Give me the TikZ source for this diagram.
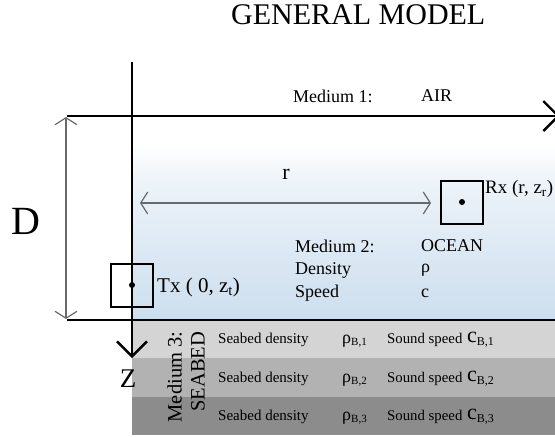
\documentclass[tikz,border=0pt]{standalone}
\usepackage{fontspec}
\setmainfont{Liberation Serif}
\usetikzlibrary{arrows.meta}
\definecolor{oceanblue}{RGB}{204,222,238}
\definecolor{bedA}{RGB}{212,212,212}
\definecolor{bedB}{RGB}{178,178,178}
\definecolor{bedC}{RGB}{140,140,140}
\definecolor{dimgray}{RGB}{105,105,105}
\tikzset{
  axisline/.style={line width=2.4pt},
  axis/.style={line width=2.4pt, -{Straight Barb[length=15pt,width=30pt,line width=2.4pt]}},
  dimline/.style={dimgray, line width=1.2pt, {Straight Barb[length=7pt,width=22pt]}-{Straight Barb[length=7pt,width=22pt]}},
  devbox/.style={draw, line width=2pt, minimum width=42pt, minimum height=43pt, inner sep=0pt},
  lbl/.style={font=\fontsize{18}{22}\selectfont, anchor=west, inner sep=0pt},
  bedlbl/.style={anchor=west, inner sep=0pt},
}
\begin{document}
\begin{tikzpicture}[x=1pt,y=-1pt]
\useasboundingbox (0,0) rectangle (555,437);
% ocean
\fill[white] (132,116) rectangle (555,145);
\shade[top color=white, bottom color=oceanblue!35] (132,145) rectangle (555,180);
\shade[top color=oceanblue!35, bottom color=oceanblue] (132,180) rectangle (555,320);
% seabed layers
\fill[bedA] (132,320) rectangle (555,358);
\fill[bedB] (132,358) rectangle (555,397);
\fill[bedC] (132,397) rectangle (555,435);
% title
\node[font=\fontsize{30}{32}\selectfont, anchor=west, inner sep=0pt] (title) at (231,15) {GENERAL MODEL};
% axes
\coordinate (ztop) at (132,62);
\coordinate (zend) at (132,358);
\coordinate (xstart) at (67,116);
\coordinate (xend) at (560,116);
\draw[axis] (ztop) -- (zend);
\draw[axis] (xstart) -- (xend);
\coordinate (bl) at (67,320);
\coordinate (br) at (555,320);
\draw[axisline] (bl) -- (br);
\node[font=\fontsize{27}{28}\selectfont, inner sep=0pt] (zlbl) at (128,379) {Z};
% D dimension
\coordinate (dtop) at (66,117);
\coordinate (dbot) at (66,319);
\draw[dimline] (dtop) -- (dbot);
\node[font=\fontsize{40}{42}\selectfont, inner sep=0pt] (dlbl) at (26,221) {D};
% devices
\node[devbox] (tx) at (132,285) {};
\fill (tx.center) circle (3pt);
\node[lbl, font=\fontsize{21}{24}\selectfont] (txl) at (157,287) {Tx ( 0, z\textsubscript{t})};
\node[devbox] (rx) at (462,202) {};
\fill (rx.center) circle (3pt);
\node[lbl, font=\fontsize{19}{23}\selectfont] (rxl) at (485,189) {Rx (r, z\textsubscript{r})};
% r dimension
\coordinate (ra) at (140,203);
\coordinate (rb) at (431,203);
\draw[dimline] (ra) -- (rb);
\node[font=\fontsize{22}{24}\selectfont, inner sep=0pt] (rlbl) at (286,174) {r};
% medium labels
\node[lbl] (m1) at (293,96) {Medium 1:};
\node[lbl] (m1v) at (421,96) {AIR};
\node[lbl] (m2) at (295,246) {Medium 2:};
\node[lbl] (m2v) at (421,246) {OCEAN};
\node[lbl] (den) at (295,270) {Density};
\node[lbl] (denv) at (421,270) {ρ};
\node[lbl] (spd) at (295,293) {Speed};
\node[lbl] (spdv) at (421,293) {c};
% seabed
\node[font=\fontsize{20.5}{23}\selectfont, rotate=90, align=right, inner sep=0pt] (m3) at (186,377) {Medium 3:\\SEABED};
\foreach \i/\y in {1/340,2/379,3/417}{
  \node[bedlbl, font=\fontsize{15}{17}\selectfont] (sd\i) at (218,\y) {Seabed density};
  \node[bedlbl, font=\fontsize{18}{20}\selectfont] (rho\i) at (342,\y+1) {ρ\textsubscript{\fontsize{11}{12}\selectfont B,\i}};
  \node[bedlbl, font=\fontsize{14.8}{17}\selectfont] (ss\i) at (387,\y) {Sound speed};
  \node[bedlbl, font=\fontsize{22}{24}\selectfont] (c\i) at (467,\y) {c\textsubscript{\fontsize{12}{13}\selectfont B,\i}};
}
\end{tikzpicture}
\end{document}
